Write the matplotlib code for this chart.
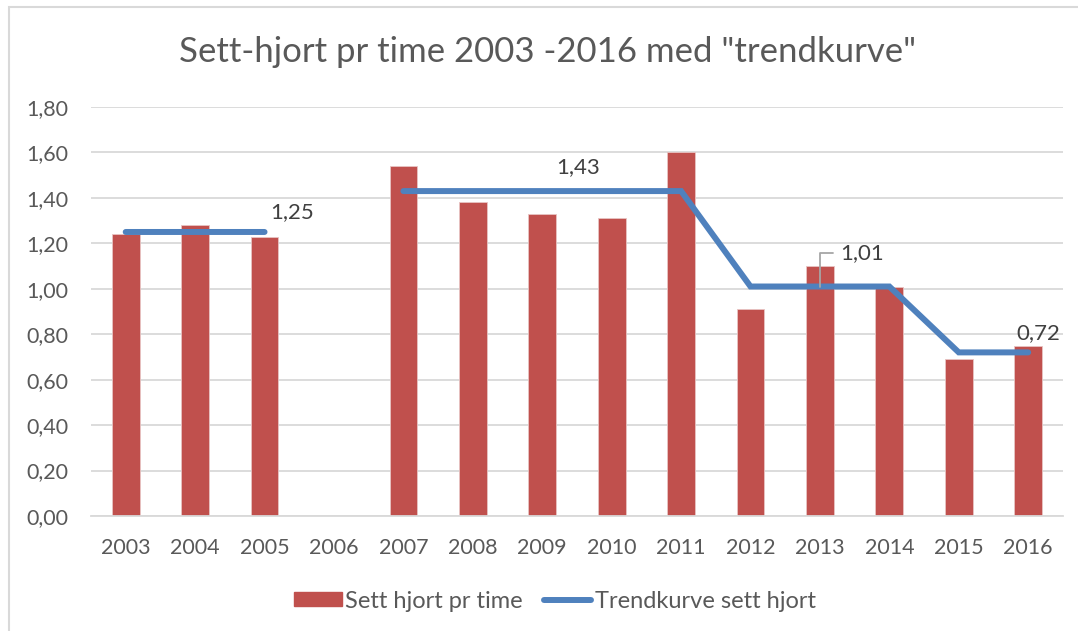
import matplotlib
matplotlib.use("Agg")
import matplotlib.pyplot as plt
from matplotlib.lines import Line2D
from matplotlib.patches import Patch, Rectangle

years = ["2003", "2004", "2005", "2006", "2007", "2008", "2009",
         "2010", "2011", "2012", "2013", "2014", "2015", "2016"]
sett_hjort = [1.24, 1.28, 1.23, None, 1.54, 1.38, 1.33,
              1.31, 1.60, 0.91, 1.10, 1.01, 0.69, 0.75]
trend = [1.25, 1.25, 1.25, None, 1.43, 1.43, 1.43,
         1.43, 1.43, 1.01, 1.01, 1.01, 0.72, 0.72]
y_ticks = [0.0, 0.2, 0.4, 0.6, 0.8, 1.0, 1.2, 1.4, 1.6, 1.8]

# (index in years, value, label offset in points)
trend_labels = [(2, 1.25, (20, 14)), (6, 1.43, (26, 17)),
                (10, 1.01, (30, 24)), (13, 0.72, (7, 14))]

bar_color = "#C0504D"
line_color = "#4F81BD"
text_color = "#595959"
grid_color = "#D9D9D9"

plt.rcParams["font.family"] = ["Lato", "DejaVu Sans"]

fig = plt.figure(figsize=(10.78, 6.31), dpi=100)
ax = fig.add_axes([0.0844, 0.1823, 0.9016, 0.6481])

# chart frame (left and top edges visible)
fig.patches.append(Rectangle((0.0085, -0.05), 1.1, 1.039, transform=fig.transFigure,
                             fill=False, edgecolor="#D9D9D9", linewidth=1.5))

x = list(range(len(years)))
bx = [i for i, v in zip(x, sett_hjort) if v is not None]
bv = [v for v in sett_hjort if v is not None]
ax.bar(bx, bv, width=0.4, color=bar_color, edgecolor="#E8C4C3",
       linewidth=0.6, zorder=2)

ty = [float("nan") if v is None else v for v in trend]
ax.plot(x, ty, color=line_color, linewidth=4.3, solid_capstyle="round",
        solid_joinstyle="miter", zorder=3)

for i, v, off in trend_labels:
    label = f"{v:.2f}".replace(".", ",")
    if i == 10:
        ax.annotate(label, xy=(i, v), xytext=off, textcoords="offset points",
                    ha="center", va="center", fontsize=16, color="#404040",
                    zorder=4,
                    arrowprops=dict(arrowstyle="-", color="#A6A6A6", lw=1.3,
                                    connectionstyle="angle,angleA=0,angleB=90,rad=0",
                                    shrinkA=3, shrinkB=0))
    else:
        ax.annotate(label, xy=(i, v), xytext=off, textcoords="offset points",
                    ha="center", va="center", fontsize=16, color="#404040",
                    zorder=4)

ax.set_xlim(-0.5, len(years) - 0.5)
ax.set_ylim(0, 1.8)
ax.set_xticks(x)
ax.set_xticklabels(years)
ax.set_yticks(y_ticks)
ax.set_yticklabels([f"{t:.2f}".replace(".", ",") for t in y_ticks])
ax.tick_params(axis="both", length=0, labelsize=15.5, labelcolor=text_color)
ax.tick_params(axis="y", pad=16)
ax.tick_params(axis="x", pad=16)
ax.grid(axis="y", color=grid_color, linewidth=1.3, zorder=0)
ax.set_axisbelow(True)
for side in ["left", "right", "top"]:
    ax.spines[side].set_visible(False)
ax.spines["bottom"].set_color(grid_color)
ax.spines["bottom"].set_linewidth(1.3)

fig.text(0.508, 0.918, 'Sett-hjort pr time 2003 -2016 med "trendkurve"',
         ha="center", va="center", fontsize=25, color=text_color)

handles = [Patch(facecolor=bar_color, edgecolor=bar_color),
           Line2D([0], [0], color=line_color, linewidth=4.3, solid_capstyle="round")]
fig.legend(handles, ["Sett hjort pr time", "Trendkurve sett hjort"],
           loc="center", bbox_to_anchor=(0.515, 1 - 601 / 631), ncol=2,
           frameon=False, fontsize=17, labelcolor=text_color,
           handlelength=2.0, handleheight=0.5, handletextpad=0.15,
           columnspacing=0.9)

fig.savefig("out.png", dpi=100)
